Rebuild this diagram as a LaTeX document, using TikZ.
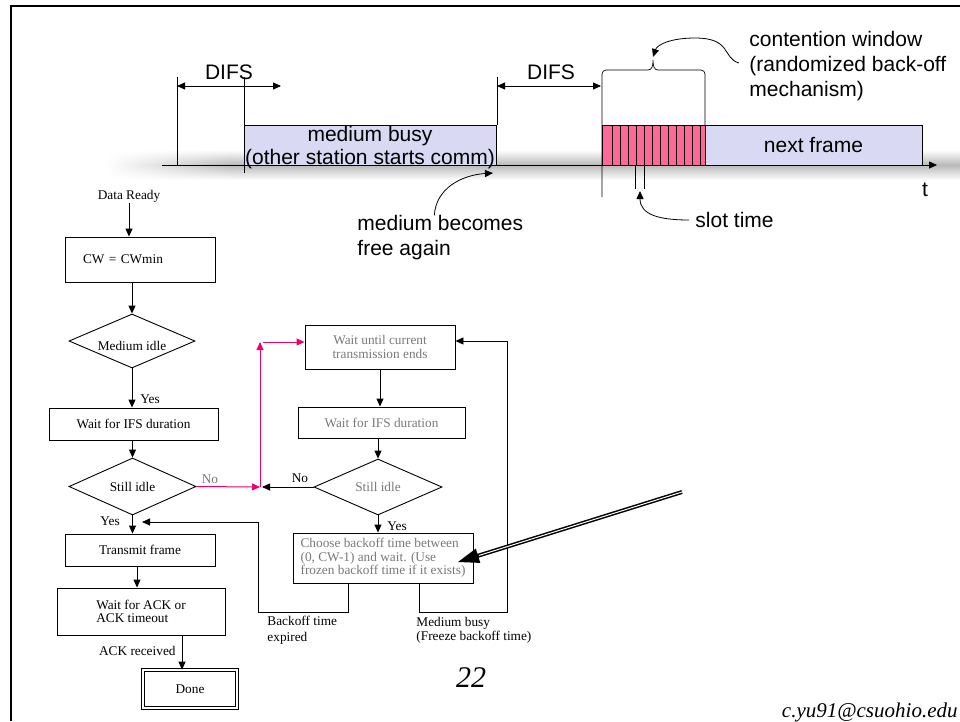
\documentclass[tikz,border=0pt]{standalone}
\usepackage{fontspec}
\setmainfont{Liberation Serif}
\newfontfamily\sansfont{Liberation Sans}
\usetikzlibrary{shapes.geometric, arrows.meta, fadings, calc}

\definecolor{busyblue}{RGB}{217,217,243}
\definecolor{slotpink}{RGB}{255,102,153}
\definecolor{flowpink}{RGB}{236,0,110}
\definecolor{textgray}{RGB}{120,120,120}

\begin{document}
\begin{tikzpicture}[
		x=1pt, y=-1pt, line width=0.9pt,
		>={Triangle[length=8pt,width=7pt]},
		every node/.style={inner sep=0pt},
		box/.style={draw, rectangle, font=\fontsize{13.3}{13.3}\selectfont},
		dia/.style={draw, diamond, aspect=2.3, font=\fontsize{13.3}{13.3}\selectfont},
		lbl/.style={font=\fontsize{13.3}{15}\selectfont},
		big/.style={font=\sansfont\fontsize{21}{25}\selectfont},
		frame/.style={draw, fill=busyblue, line width=0.7pt},
		pinkline/.style={flowpink, line width=1pt},
		blur/.style={top color=white, bottom color=white, middle color=gray!55}
	]
  \useasboundingbox (0,0) rectangle (960,721);
  \draw[line width=2.5pt] (11,721) -- (11,6) -- (960,6);

  % shadow under the time axis
  \shade[blur, path fading=west] (105,150) rectangle (230,180);
  \shade[blur] (230,150) rectangle (960,180);

  \node (busy) [frame, big, font=\sansfont\fontsize{21}{23}\selectfont, text depth=0pt, align=center, minimum width=252, minimum height=40] at (370,145) {medium busy\\(other station starts comm)};
  \node (next_frame) [frame, big, minimum width=217, minimum height=40] at (813.5,145) {next frame};
  \filldraw[fill=slotpink, line width=0.7pt] (602,125) rectangle (705,165);
  \foreach \x in {612,620,...,700} \draw[line width=0.6pt] (\x,125) -- (\x,165);

  \draw[line width=0.7pt] (177,77) -- (177,165);
  \draw[line width=0.7pt] (244,77) -- (244,173);
  \draw[line width=0.7pt] (497,77) -- (497,125);
  \draw[line width=0.7pt] (635.5,165) -- (635.5,189) (644,165) -- (644,189);
  \draw[line width=0.7pt, rounded corners=4pt] (602,197) -- (602,70) -- (648,70);
  \draw[line width=0.7pt] (648,70) .. controls (652,70) and (653,66) .. (653,60) .. controls (653,66) and (654,70) .. (658,70);
  \draw[line width=0.7pt, rounded corners=4pt] (658,70) -- (705,70) -- (705,125);
  \draw[->, line width=0.8pt] (162,165) -- (937,165);

  \node (difs_a) [big] at (229,72) {DIFS};
  \node (difs_b) [big] at (551,72) {DIFS};
  \draw[<->, line width=0.8pt] (177,86) -- (281,86);
  \draw[<->, line width=0.8pt] (497,86) -- (601,86);

  \node (t) [big] at (925,190) {t};
  \node (slot) [big, anchor=west] at (695,220) {slot time};
  \draw[->, line width=0.8pt] ([xshift=-6pt]slot.west) .. controls (660,220) and (640,215) .. (640,191);
  \node (free) [big, align=left, anchor=west] at (357,238) {medium becomes\\free again};
  \draw[->, line width=0.8pt] ([xshift=-6pt]free.north) .. controls (436,188) and (462,175) .. (493,173);
  \node (cwin) [big, align=left, anchor=west] at (749,66) {contention window\\(randomized back-off\\mechanism)};
  \draw[->, line width=0.8pt] ([xshift=-10pt,yshift=3pt]cwin.west) .. controls (722,58) and (732,38) .. (695,38) .. controls (670,38) and (657,45) .. (653,57);

  % flow chart
  \node (ready) [lbl] at (129,196) {Data Ready};
  \node (cw_min) [box, minimum width=150, minimum height=45, text width=114, align=left] at (140,259.5) {CW = CWmin};
  \node (idle) [dia, minimum width=126, minimum height=54] at (132,341) {\raisebox{-9pt}[0pt][0pt]{Medium idle}};
  \node (ifs_a) [box, minimum width=169, minimum height=32] at (133.5,424) {Wait for IFS duration};
  \node (still_a) [dia, minimum width=127, minimum height=57] at (132.5,486.5) {Still idle};
  \node (tx) [box, minimum width=150, minimum height=32] at (140,550) {Transmit frame};
  \node (ack) [box, minimum width=168, minimum height=47, align=left] at (141,611.5) {Wait for ACK or\\ACK timeout};
  \node (done) [box, double, double distance=1.8pt, line width=0.8pt, minimum width=94, minimum height=38] at (190,689) {Done};

  \node (wait_b) [box, text=textgray, align=center, minimum width=150, minimum height=44] at (380,347) {Wait until current\\transmission ends};
  \node (ifs_b) [box, text=textgray, minimum width=167, minimum height=31] at (381.5,422.5) {Wait for IFS duration};
  \node (still_b) [dia, text=textgray, minimum width=128, minimum height=56] at (378,487) {Still idle};
  \node (choose) [box, text=textgray, align=left, minimum width=180, minimum height=50] at (383,558) {Choose backoff time between\\(0, CW-1) and wait. (Use\\frozen backoff time if it exists)};

  \node (yes_a) [lbl, anchor=west] at (140,399) {Yes};
  \node (no_a) [lbl, text=textgray] at (210,479) {No};
  \node (yes_b) [lbl] at (110,521) {Yes};
  \node (no_b) [lbl] at (300,478) {No};
  \node (yes_c) [lbl] at (397,526) {Yes};
  \node (ack_ok) [lbl, anchor=east] at (176,651) {ACK received};
  \node (expired) [lbl, font=\fontsize{13.3}{16}\selectfont, align=left, anchor=west] at (267,630) {Backoff time\\expired};
  \node (frozen) [lbl, font=\fontsize{13.3}{14}\selectfont, align=left, anchor=west] at (416,630) {Medium busy\\(Freeze backoff time)};

  \coordinate (ack_out) at ([xshift=-8pt]done.north);
  \draw[->] (ready) -- (ready |- cw_min.north);
  \draw[->] (idle |- cw_min.south) -- (idle.north);
  \draw[->] (idle.south) -- (idle |- ifs_a.north);
  \draw[->] (still_a |- ifs_a.south) -- (still_a.north);
  \draw[->] (still_a.south) -- (still_a |- tx.north);
  \draw[->] ([xshift=-3pt]tx.south) -- ([xshift=-3pt]tx.south |- ack.north);
  \draw[->] (ack_out |- ack.south) -- (ack_out);

  \draw[->] (wait_b.south) -- (wait_b.south |- ifs_b.north);
  \draw[->] (still_b |- ifs_b.south) -- (still_b.north);
  \draw[->] (still_b.south) -- (still_b.south |- choose.north);

  \coordinate (join) at (260,487);
  \coordinate (turn) at (260,342);
  \coordinate (yes_in) at (142,522);
  \draw[->, pinkline] (still_a.east) -- (join);
  \draw[->] (still_b.west) -- ([xshift=2pt]join);
  \draw[->, pinkline] (join) -- (turn);
  \draw[->, pinkline] ([xshift=3pt]turn) -- (turn -| wait_b.west);
  \draw[->] ([xshift=-35pt]choose.south) |- (258,612) |- (yes_in);
  \draw[->] ([xshift=36pt]choose.south) |- (507,612) |- ([yshift=6pt]wait_b.east);

  % big pointer
  \coordinate (pointer) at (682,492);
  \coordinate (pointed) at (458,562);
  \coordinate (head_l) at ($(pointed)!21pt!(pointer)!7.5pt!90:(pointer)$);
  \coordinate (head_r) at ($(pointed)!21pt!(pointer)!7.5pt!-90:(pointer)$);
  \draw[line width=4pt, shorten >=18pt] (pointer) -- (pointed);
  \draw[white, line width=1pt, shorten >=22pt] (pointer) -- (pointed);
  \fill (pointed) -- (head_l) -- (head_r) -- cycle;

  \node (page) [font=\itshape\fontsize{30}{30}\selectfont] at (471,678) {22};
  \node (mail) [font=\itshape\fontsize{21}{21}\selectfont, anchor=east] at (958,712) {c.yu91@csuohio.edu};
\end{tikzpicture}
\end{document}
